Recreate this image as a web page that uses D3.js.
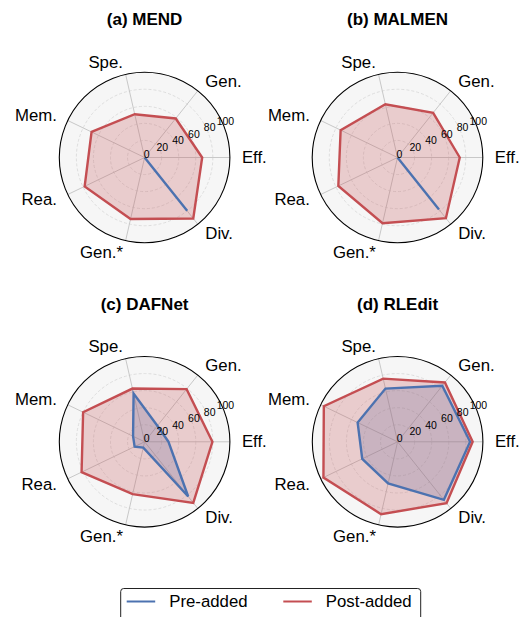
<!DOCTYPE html>
<html>
<head>
<meta charset="utf-8">
<script src="https://cdn.jsdelivr.net/npm/d3@7"></script>
<style>
  html, body { margin: 0; padding: 0; background: #fff; }
  svg { display: block; font-family: "Liberation Sans", Arial, sans-serif; }
</style>
</head>
<body>
<svg id="chart" width="521" height="617"></svg>
<script>
// Evaluation dimensions (counter-clockwise in angle, starting from the right)
const categories = ["Eff.", "Gen.", "Spe.", "Mem.", "Rea.", "Gen.*", "Div."];
const methods = ["MEND", "MALMEN", "DAFNet", "RLEdit"];
const panelTags = ["(a)", "(b)", "(c)", "(d)"];

// Scores before and after the addition, one array per method
const preMEND    = [0, 0, 0, 0, 0, 0, 80];
const preMALMEN  = [0, 0, 0, 0, 0, 0, 78];
const preDAFNet  = [28, 24, 58, 15, 13, 7, 82];
const preRLEdit  = [85, 84, 64, 52, 46, 50, 87];

const postMEND   = [67.5, 58.5, 52, 69, 78, 74, 91.5];
const postMALMEN = [73, 67, 64, 74, 77, 79, 91];
const postDAFNet = [79.5, 79, 64, 80, 82, 63, 91.5];
const postRLEdit = [88, 89, 76, 96, 96.5, 87, 92];

const radialTicks = [0, 20, 40, 60, 80, 100];
const seriesNames = ["Pre-added", "Post-added"];
const seriesColors = ["#4c72b0", "#c44e52"];

const preByMethod  = [preMEND, preMALMEN, preDAFNet, preRLEdit];
const postByMethod = [postMEND, postMALMEN, postDAFNet, postRLEdit];

const svg = d3.select("#chart");
const R = 85.3;
const centers = [[144.6, 157.5], [397.5, 157.5], [144.6, 441.8], [397.6, 441.8]];
const titleY = [25, 25, 309.5, 309.5];

const r = d3.scaleLinear().domain([0, 100]).range([0, R]);
const n = categories.length;
const angle = d3.scaleLinear().domain([0, n]).range([0, 2 * Math.PI]);

// polar -> screen (angle measured counter-clockwise from east)
const px = (a, rad) => rad * Math.cos(a);
const py = (a, rad) => -rad * Math.sin(a);

const line = d3.line()
  .x((d, i) => px(angle(i), r(d)))
  .y((d, i) => py(angle(i), r(d)))
  .curve(d3.curveLinearClosed);

methods.forEach((m, k) => {
  const [cx, cy] = centers[k];
  const g = svg.append("g").attr("transform", `translate(${cx},${cy})`);

  // panel background
  g.append("circle").attr("r", R).attr("fill", "#f6f6f6");

  // dashed rings
  g.selectAll("circle.ring")
    .data(radialTicks.filter(t => t > 0 && t < 100))
    .join("circle")
    .attr("class", "ring")
    .attr("r", d => r(d))
    .attr("fill", "none")
    .attr("stroke", "#dadada")
    .attr("stroke-width", 0.9)
    .attr("stroke-dasharray", "3,2");

  // spokes
  g.selectAll("line.spoke")
    .data(categories)
    .join("line")
    .attr("class", "spoke")
    .attr("x1", 0).attr("y1", 0)
    .attr("x2", (d, i) => px(angle(i), R))
    .attr("y2", (d, i) => py(angle(i), R))
    .attr("stroke", "#c8c8c8")
    .attr("stroke-width", 1);

  // series fills then outlines
  const seriesData = [preByMethod[k], postByMethod[k]];
  seriesData.forEach((vals, s) => {
    g.append("path")
      .attr("d", line(vals))
      .attr("fill", seriesColors[s])
      .attr("fill-opacity", 0.25)
      .attr("stroke", "none");
  });
  seriesData.forEach((vals, s) => {
    g.append("path")
      .attr("d", line(vals))
      .attr("fill", "none")
      .attr("stroke", seriesColors[s])
      .attr("stroke-width", 2.4)
      .attr("stroke-linejoin", "miter");
  });

  // radial tick labels along 22.5°, on top of the data
  const la = 22.5 * Math.PI / 180;
  g.selectAll("text.rtick")
    .data(radialTicks)
    .join("text")
    .attr("class", "rtick")
    .attr("x", d => px(la, r(d)) + 2)
    .attr("y", d => py(la, r(d)))
    .attr("text-anchor", "middle")
    .attr("font-size", 10.5)
    .attr("fill", "#000")
    .text(d => d);

  // outer frame
  g.append("circle").attr("r", R).attr("fill", "none")
    .attr("stroke", "#000").attr("stroke-width", 1.1);

  // category labels
  g.selectAll("text.cat")
    .data(categories)
    .join("text")
    .attr("class", "cat")
    .attr("x", (d, i) => px(angle(i), R + 12))
    .attr("y", (d, i) => py(angle(i), R + 12))
    .attr("text-anchor", (d, i) => Math.cos(angle(i)) >= -0.01 ? "start" : "end")
    .attr("dominant-baseline", "central")
    .attr("font-size", 16.8)
    .attr("fill", "#000")
    .text(d => d);

  // panel title
  svg.append("text")
    .attr("x", cx)
    .attr("y", titleY[k])
    .attr("text-anchor", "middle")
    .attr("font-size", 17)
    .attr("font-weight", "bold")
    .attr("fill", "#000")
    .text(`${panelTags[k]} ${m}`);
});

// legend
const lg = svg.append("g");
lg.append("rect")
  .attr("x", 120.7).attr("y", 588.5)
  .attr("width", 300).attr("height", 40)
  .attr("rx", 3)
  .attr("fill", "#fff")
  .attr("stroke", "#222")
  .attr("stroke-width", 1);
const legendX = [126.7, 283.3];
seriesNames.forEach((name, s) => {
  lg.append("line")
    .attr("x1", legendX[s]).attr("x2", legendX[s] + 28.5)
    .attr("y1", 601.5).attr("y2", 601.5)
    .attr("stroke", seriesColors[s])
    .attr("stroke-width", 2);
  lg.append("text")
    .attr("x", legendX[s] + 42.5)
    .attr("y", 601.5)
    .attr("dominant-baseline", "central")
    .attr("font-size", 16.8)
    .attr("fill", "#000")
    .text(name);
});
</script>
</body>
</html>
